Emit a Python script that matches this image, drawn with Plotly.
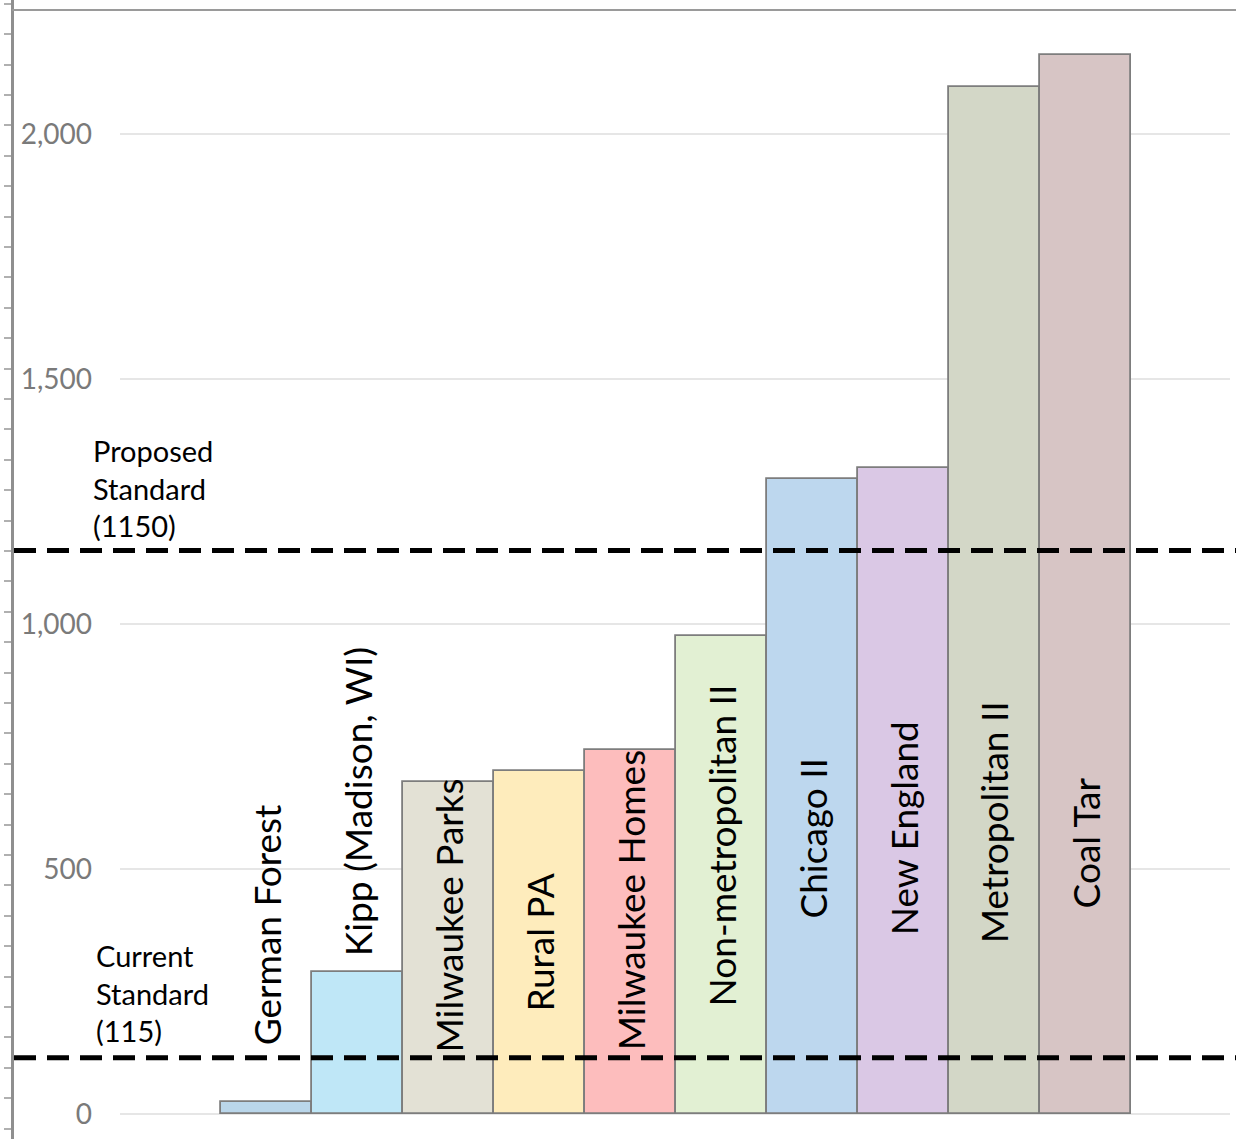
import plotly.graph_objects as go

# ---- data ----
categories = ["German Forest", "Kipp (Madison, WI)", "Milwaukee Parks", "Rural PA",
              "Milwaukee Homes", "Non-metropolitan II", "Chicago II", "New England",
              "Metropolitan II", "Coal Tar"]
values = [25, 290, 678, 700, 743, 976, 1296, 1318, 2096, 2161]
proposed_standard = 1150
current_standard = 115
y_tick_vals = [0, 500, 1000, 1500, 2000]
y_tick_text = ["0", "500", "1,000", "1,500", "2,000"]

# ---- styling (layout only) ----
bar_colors = ["#bad6ea", "#bfe7f7", "#e3e1d5", "#feecbc", "#fdbdbd",
              "#e2f0d3", "#bdd7ee", "#dac8e5", "#d3d7c7", "#d7c5c5"]
label_y_pos = [386, 639, 406, 351, 437, 549, 563, 584, 596, 553]

W, H = 1236, 1139
FONT = "Lato, 'Open Sans', sans-serif"

x_idx = list(range(len(categories)))

fig = go.Figure()
fig.add_trace(go.Bar(
    x=x_idx, y=values, width=1.0,
    marker=dict(color=bar_colors, line=dict(color="#7d7d7d", width=1.8)),
    hovertext=categories, showlegend=False,
))
# invisible trace to activate the frame (ruler) axis
fig.add_trace(go.Scatter(x=[None], y=[None], yaxis="y2", showlegend=False,
                         hoverinfo="skip"))

annotations = []
for i, (name, ly) in enumerate(zip(categories, label_y_pos)):
    annotations.append(dict(
        x=i, y=ly, xref="x", yref="y", text=name, textangle=-90,
        showarrow=False, xanchor="center", yanchor="middle",
        font=dict(family=FONT, size=37, color="#000000"),
    ))
annotations.append(dict(
    x=91 / W, y=proposed_standard, xref="paper", yref="y",
    text="Proposed<br>Standard<br>(" + str(proposed_standard) + ")",
    showarrow=False, xanchor="left", yanchor="bottom", align="left", yshift=6,
    font=dict(family=FONT, size=29, color="#000000"),
))
annotations.append(dict(
    x=94 / W, y=current_standard, xref="paper", yref="y",
    text="Current<br>Standard<br>(" + str(current_standard) + ")",
    showarrow=False, xanchor="left", yanchor="bottom", align="left", yshift=8,
    font=dict(family=FONT, size=29, color="#000000"),
))

shapes = []
for lvl in (proposed_standard, current_standard):
    shapes.append(dict(type="line", xref="paper", yref="y",
                       x0=14 / W, x1=1.0, y0=lvl, y1=lvl,
                       line=dict(color="#000000", width=5, dash="22px,11px")))
# top frame line
shapes.append(dict(type="line", xref="paper", yref="paper",
                   x0=12 / W, x1=1.0, y0=1 - 10 / H, y1=1 - 10 / H,
                   line=dict(color="#9a9a9a", width=2)))

fig.update_layout(
    width=W, height=H,
    margin=dict(l=0, r=0, t=0, b=0),
    paper_bgcolor="white", plot_bgcolor="white",
    bargap=0,
    xaxis=dict(domain=[120 / W, 1230 / W], range=[-1.61, 10.59],
               showticklabels=False, showgrid=False, zeroline=False,
               showline=False, ticks=""),
    yaxis=dict(domain=[0, 1], range=[-51, 2273.5],
               tickvals=y_tick_vals, ticktext=y_tick_text,
               showgrid=True, gridcolor="#e6e6e6", gridwidth=1.5,
               zeroline=False, showline=False, ticks="",
               ticklabelstandoff=27,
               tickfont=dict(family=FONT, size=28, color="#7a7a7a")),
    yaxis2=dict(overlaying="y", anchor="free", position=12 / W, side="left",
                range=[0, H], tick0=10.4, dtick=30.4, ticks="outside",
                ticklen=7, tickcolor="#b0b0b0", tickwidth=1.5,
                showline=True, linecolor="#8f8f8f", linewidth=2.5,
                showticklabels=False, showgrid=False, zeroline=False),
    annotations=annotations,
    shapes=shapes,
)

fig.write_html("out.html")
